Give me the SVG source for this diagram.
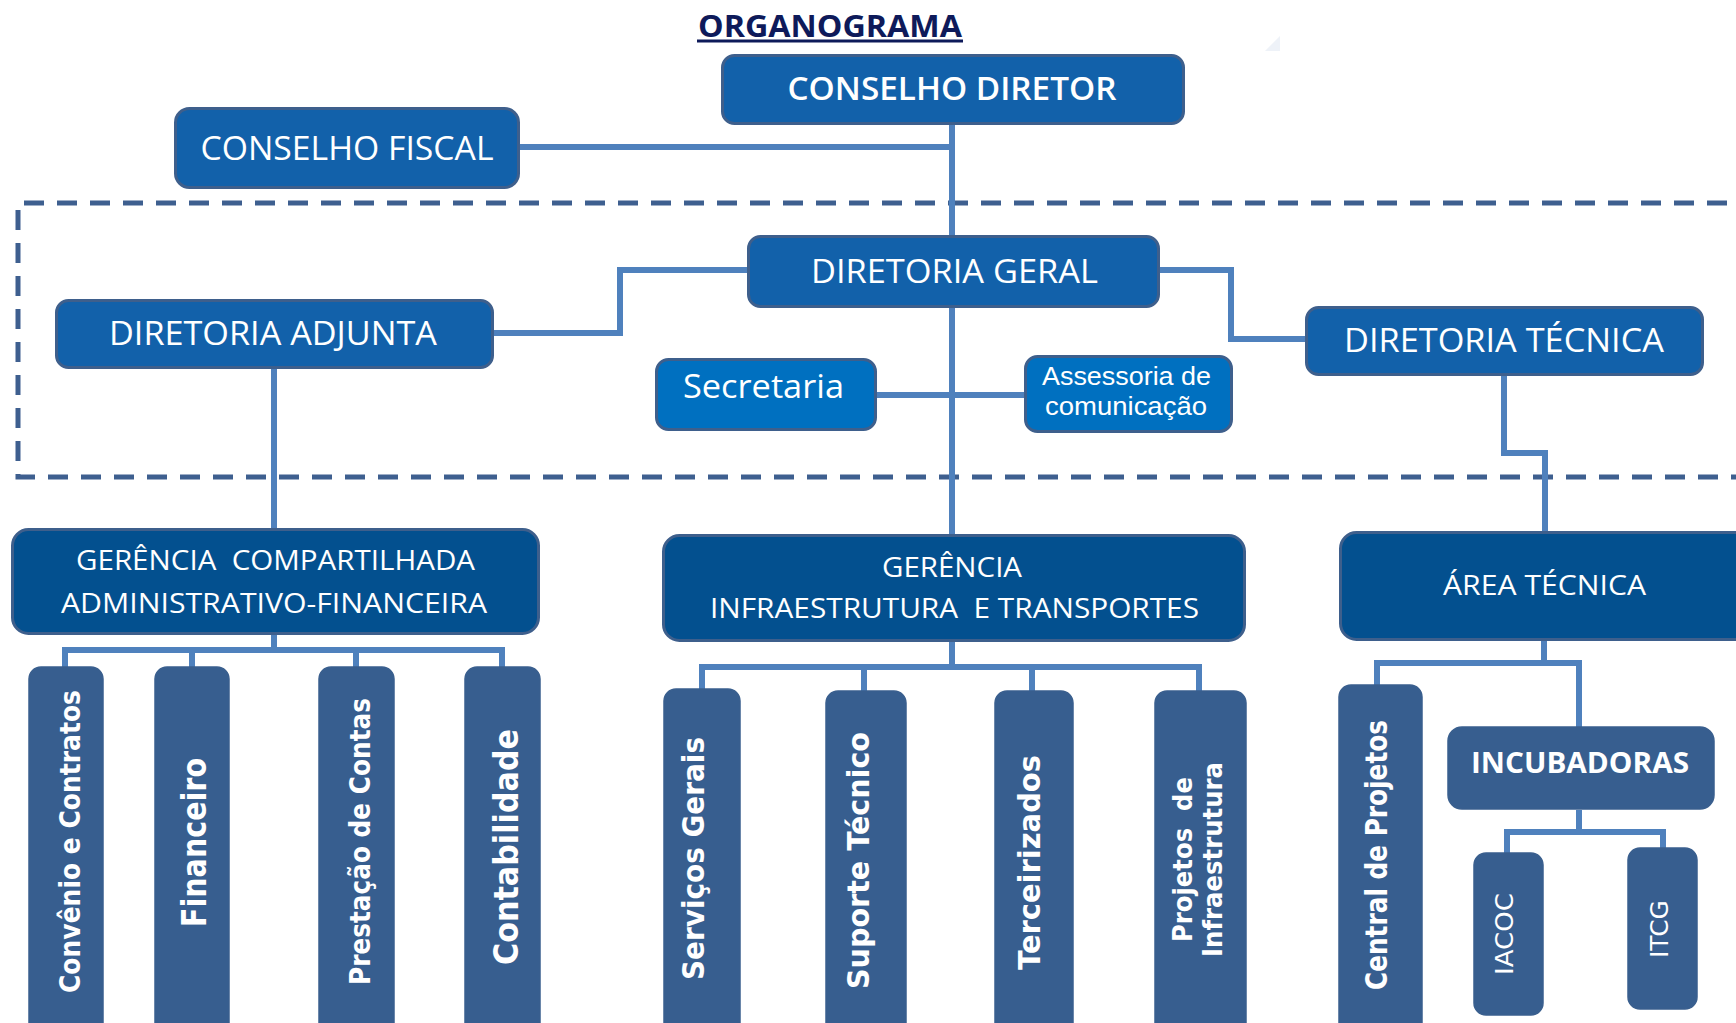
<svg xmlns="http://www.w3.org/2000/svg" width="1736" height="1023" viewBox="0 0 1736 1023">
<style>
.top{fill:#1261AA;stroke:#3E5F8C;stroke-width:3}
.sec{fill:#0070C0;stroke:#3E5F8C;stroke-width:3}
.ger{fill:#03508F;stroke:#3E5F8C;stroke-width:3}
.sub{fill:#375E8F;stroke:#3A5F8E;stroke-width:1.5}
.conn{fill:none;stroke:#4F81BD;stroke-width:6;stroke-linejoin:miter}
.dash{fill:none;stroke:#3E5F8F;stroke-width:5;stroke-dasharray:20 13}
.t{font-family:"Open Sans","Liberation Sans",sans-serif;fill:#FFFFFF;text-anchor:middle;white-space:pre}
.a{font-family:"Liberation Sans","Open Sans",sans-serif;fill:#FFFFFF;text-anchor:middle}
.v{font-family:"DejaVu Sans","Liberation Sans",sans-serif;font-weight:bold;fill:#FFFFFF;text-anchor:middle;white-space:pre}
.vr{font-family:"DejaVu Sans","Liberation Sans",sans-serif;fill:#FFFFFF;text-anchor:middle}
</style>
<rect width="1736" height="1023" fill="#FFFFFF"/>
<polygon points="1265,51 1280,36 1280,51" fill="#EEF2F8"/>
<g id="title">
<text x="830" y="37" font-family="'Open Sans','Liberation Sans',sans-serif" font-weight="bold" font-size="31" fill="#0E1A5A" text-anchor="middle" textLength="264" lengthAdjust="spacingAndGlyphs">ORGANOGRAMA</text>
<rect x="697" y="39.5" width="266" height="3" fill="#0E1A5A"/>
</g>
<path class="dash" d="M1760 203 H18 V477 H1760"/>
<g id="connectors">
<path class="conn" d="M520 147 H952"/>
<path class="conn" d="M952 125 V235"/>
<path class="conn" d="M494 333 H620 V270 H747"/>
<path class="conn" d="M1160 270 H1231 V339 H1305"/>
<path class="conn" d="M877 395 H1024"/>
<path class="conn" d="M952 308 V534"/>
<path class="conn" d="M274 369 V528"/>
<path class="conn" d="M1504 376 V453 H1545 V531"/>
<path class="conn" d="M274 635 V650"/>
<path class="conn" d="M65 667 V650 H502 V667 M192 650 V667 M356 650 V667"/>
<path class="conn" d="M952 642 V667"/>
<path class="conn" d="M702 689 V667 H1199 V691 M864 667 V691 M1032 667 V691"/>
<path class="conn" d="M1544 641 V663"/>
<path class="conn" d="M1377 685 V663 H1579 V727"/>
<path class="conn" d="M1579 810 V832"/>
<path class="conn" d="M1507 853 V832 H1663 V848"/>
</g>
<g id="conselho-diretor">
<rect class="top" x="722.5" y="55.5" width="461" height="68" rx="12"/>
<text class="t" x="952" y="100" font-size="33" font-weight="600" textLength="329" lengthAdjust="spacingAndGlyphs">CONSELHO DIRETOR</text>
</g>
<g id="conselho-fiscal">
<rect class="top" x="175.5" y="108.5" width="343" height="79" rx="14"/>
<text class="t" x="347" y="160" font-size="33" textLength="293" lengthAdjust="spacingAndGlyphs">CONSELHO FISCAL</text>
</g>
<g id="diretoria-geral">
<rect class="top" x="748.5" y="236.5" width="410" height="70" rx="12"/>
<text class="t" x="954.5" y="283" font-size="33" textLength="287" lengthAdjust="spacingAndGlyphs">DIRETORIA GERAL</text>
</g>
<g id="diretoria-adjunta">
<rect class="top" x="56.5" y="300.5" width="436" height="67" rx="12"/>
<text class="t" x="273" y="345" font-size="33" textLength="328" lengthAdjust="spacingAndGlyphs">DIRETORIA ADJUNTA</text>
</g>
<g id="diretoria-tecnica">
<rect class="top" x="1306.5" y="307.5" width="396" height="67" rx="12"/>
<text class="t" x="1504" y="352" font-size="33" textLength="320" lengthAdjust="spacingAndGlyphs">DIRETORIA TÉCNICA</text>
</g>
<g id="secretaria">
<rect class="sec" x="656.5" y="359.5" width="219" height="70" rx="12"/>
<text class="t" x="763.5" y="398" font-size="33" textLength="161" lengthAdjust="spacingAndGlyphs">Secretaria</text>
</g>
<g id="assessoria">
<rect class="sec" x="1025.5" y="356.5" width="206" height="75" rx="12"/>
<text class="a" x="1126.5" y="385" font-size="26" textLength="169" lengthAdjust="spacingAndGlyphs">Assessoria de</text>
<text class="a" x="1126" y="415" font-size="26" textLength="162" lengthAdjust="spacingAndGlyphs">comunicação</text>
</g>
<g id="gerencia-compartilhada">
<rect class="ger" x="12.5" y="529.5" width="526" height="104" rx="16"/>
<text class="t" x="275.5" y="570" font-size="28" textLength="399" lengthAdjust="spacingAndGlyphs">GERÊNCIA  COMPARTILHADA</text>
<text class="t" x="274" y="613" font-size="28" textLength="426" lengthAdjust="spacingAndGlyphs">ADMINISTRATIVO-FINANCEIRA</text>
</g>
<g id="gerencia-infra">
<rect class="ger" x="663.5" y="535.5" width="581" height="105" rx="16"/>
<text class="t" x="952" y="577" font-size="28" textLength="140" lengthAdjust="spacingAndGlyphs">GERÊNCIA</text>
<text class="t" x="954.5" y="618" font-size="28" textLength="489" lengthAdjust="spacingAndGlyphs">INFRAESTRUTURA  E TRANSPORTES</text>
</g>
<g id="area-tecnica">
<rect class="ger" x="1340.5" y="532.5" width="440" height="107" rx="16"/>
<text class="t" x="1544.5" y="595" font-size="28" textLength="203" lengthAdjust="spacingAndGlyphs">ÁREA TÉCNICA</text>
</g>
<g id="incubadoras">
<rect class="sub" x="1448" y="727" width="266" height="82" rx="14"/>
<text class="t" x="1580" y="773" font-size="28" font-weight="bold" textLength="218" lengthAdjust="spacingAndGlyphs">INCUBADORAS</text>
</g>
<g id="convenio">
<rect class="sub" x="29" y="667" width="74" height="380" rx="12"/>
<text class="v" transform="translate(80 841.5) rotate(-90)" font-size="29" textLength="303" lengthAdjust="spacingAndGlyphs">Convênio e Contratos</text>
</g>
<g id="financeiro">
<rect class="sub" x="155" y="667" width="74" height="380" rx="12"/>
<text class="v" transform="translate(206 842.5) rotate(-90)" font-size="34" textLength="169" lengthAdjust="spacingAndGlyphs">Financeiro</text>
</g>
<g id="prestacao">
<rect class="sub" x="319" y="667" width="75" height="380" rx="12"/>
<text class="v" transform="translate(370 841.5) rotate(-90)" font-size="29" textLength="287" lengthAdjust="spacingAndGlyphs">Prestação de Contas</text>
</g>
<g id="contabilidade">
<rect class="sub" x="465" y="667" width="75" height="380" rx="12"/>
<text class="v" transform="translate(518 847) rotate(-90)" font-size="33" textLength="236" lengthAdjust="spacingAndGlyphs">Contabilidade</text>
</g>
<g id="servicos">
<rect class="sub" x="664" y="689" width="76" height="360" rx="12"/>
<text class="v" transform="translate(704 858.5) rotate(-90)" font-size="30" textLength="243" lengthAdjust="spacingAndGlyphs">Serviços Gerais</text>
</g>
<g id="suporte">
<rect class="sub" x="826" y="691" width="80" height="360" rx="12"/>
<text class="v" transform="translate(869 860.5) rotate(-90)" font-size="30" textLength="257" lengthAdjust="spacingAndGlyphs">Suporte Técnico</text>
</g>
<g id="terceirizados">
<rect class="sub" x="995" y="691" width="78" height="360" rx="12"/>
<text class="v" transform="translate(1040 862.5) rotate(-90)" font-size="30" textLength="215" lengthAdjust="spacingAndGlyphs">Terceirizados</text>
</g>
<g id="projetos-infra">
<rect class="sub" x="1155" y="691" width="91" height="360" rx="12"/>
<text class="v" transform="translate(1192 859.5) rotate(-90)" font-size="27" textLength="165" lengthAdjust="spacingAndGlyphs">Projetos  de</text>
<text class="v" transform="translate(1222 859.5) rotate(-90)" font-size="27" textLength="195" lengthAdjust="spacingAndGlyphs">Infraestrutura</text>
</g>
<g id="central-projetos">
<rect class="sub" x="1339" y="685" width="83" height="365" rx="12"/>
<text class="v" transform="translate(1387 855) rotate(-90)" font-size="30" textLength="270" lengthAdjust="spacingAndGlyphs">Central de Projetos</text>
</g>
<g id="iacoc">
<rect class="sub" x="1474" y="853" width="69" height="162" rx="12"/>
<text class="vr" transform="translate(1513 934) rotate(-90)" font-size="25" textLength="82" lengthAdjust="spacingAndGlyphs">IACOC</text>
</g>
<g id="itcg">
<rect class="sub" x="1628" y="848" width="69" height="161" rx="12"/>
<text class="vr" transform="translate(1668 929) rotate(-90)" font-size="25" textLength="58" lengthAdjust="spacingAndGlyphs">ITCG</text>
</g>
</svg>
